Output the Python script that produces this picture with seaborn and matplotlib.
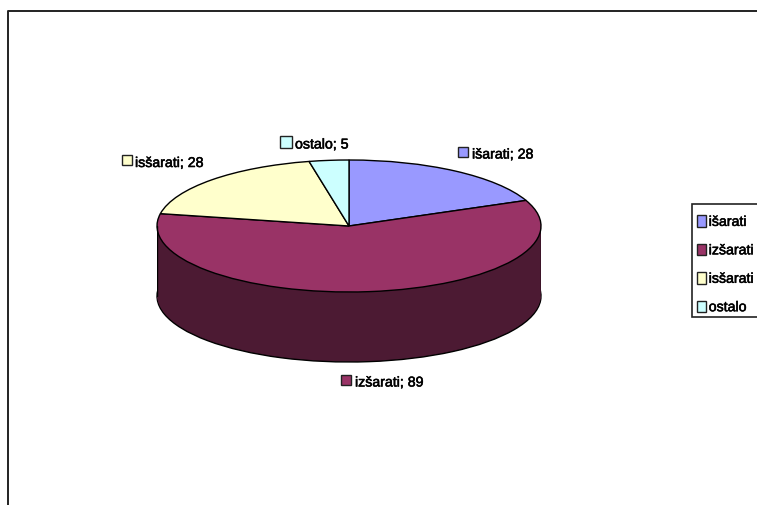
import numpy as np
import matplotlib
matplotlib.use('Agg')
import matplotlib.pyplot as plt
import matplotlib.patheffects as pe
import seaborn as sns
from matplotlib.patches import Patch, Rectangle

categories = ['išarati', 'izšarati', 'isšarati', 'ostalo']
values = [28, 89, 28, 5]
top_colors = ['#9999FF', '#993366', '#FFFFCC', '#CCFFFF']
side_colors = ['#4C4C80', '#4C1A33', '#808066', '#668080']

sns.set_theme(style='white')
plt.rcParams['font.family'] = ['Liberation Sans', 'DejaVu Sans']

W, H = 757, 506
fig = plt.figure(figsize=(W / 100, H / 100), dpi=100, facecolor='white')


def box(left, top, right, bottom):
    return [left / W, 1 - bottom / H, (right - left) / W, (bottom - top) / H]


# slightly heavier text, the original is a blurred screenshot
heavy = [pe.withStroke(linewidth=0.4, foreground='black')]

# pixel overlay for the outer frame, labels and their keys
over = fig.add_axes([0, 0, 1, 1], zorder=3)
over.set_xlim(0, W)
over.set_ylim(H, 0)
over.axis('off')
over.patch.set_alpha(0)

# the 3D pie: a stack of dark pies under the coloured one
depth = 70 / 66
ax = fig.add_axes(box(157, 161, 541, 363), zorder=2)
ax.patch.set_alpha(0)
for off in np.linspace(depth, 0.02, 50):
    edge = {'edgecolor': 'black', 'linewidth': 1.0} if off == depth else {'linewidth': 0}
    ax.pie(values, colors=side_colors, startangle=90, counterclock=False,
           center=(0, -off), wedgeprops=edge)
wedges, _ = ax.pie(values, colors=top_colors, startangle=90, counterclock=False,
                   wedgeprops={'edgecolor': 'black', 'linewidth': 1.0})
ax.set_aspect('auto')
ax.set_xlim(-1, 1)
ax.set_ylim(-1 - depth, 1)
ax.plot([-1, -1], [0, -depth], color='black', lw=1)
ax.plot([1, 1], [0, -depth], color='black', lw=1)
ax.set_axis_off()

# outer frame, cut by the image edge
over.plot([7.5, 7.5, W], [H, 11.5, 11.5], color='#222222', lw=1.4, clip_on=False)

# data labels
label_pos = [(472, 155.5), (355, 383.5), (135, 164), (295, 145.5)]
key_pos = [(463, 153), (346, 381), (127, 161), (286, 143)]
key_size = [7, 7, 7, 8.5]
for name, v, (tx, ty), (kx, ky), c, s in zip(categories, values, label_pos, key_pos, top_colors, key_size):
    over.text(tx, ty, f'{name}; {v}', fontsize=10.2, color='black',
              va='center', ha='left', path_effects=heavy)
    over.plot([kx], [ky], marker='s', ms=s, mfc=c, mec='#222222', mew=1, ls='none')

# legend box runs off the right side of the image
over.add_patch(Rectangle((692, 205), 80, 113, facecolor='white', edgecolor='#222222', lw=1.2))
handles = [Patch(facecolor=c, edgecolor='#222222', linewidth=1) for c in top_colors]
leg = fig.legend(handles, categories, loc='upper left',
                 bbox_to_anchor=(691 / W, 1 - 209.5 / H), borderaxespad=0,
                 fontsize=10.2, frameon=False,
                 borderpad=0.45, labelspacing=1.02, handlelength=0.6, handleheight=0.85,
                 handletextpad=0.2)
for t in leg.get_texts():
    t.set_color('black')
    t.set_path_effects(heavy)

fig.savefig('out.png', dpi=100)
